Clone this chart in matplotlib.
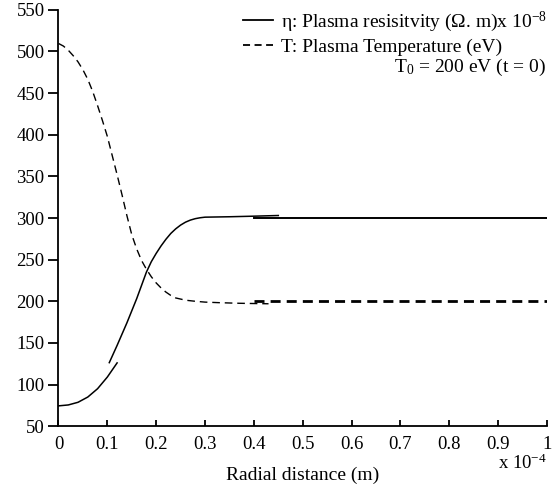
import matplotlib
matplotlib.use("Agg")
import matplotlib.pyplot as plt

plt.rcParams["font.family"] = ["Liberation Serif", "DejaVu Serif"]
plt.rcParams["mathtext.fontset"] = "custom"
plt.rcParams["mathtext.rm"] = "Liberation Serif"
plt.rcParams["mathtext.it"] = "Liberation Serif:italic"

# radial distance in units of 1e-4 m
eta_a_x = [0.0, 0.02, 0.04, 0.06, 0.08, 0.10, 0.12]
eta_a_y = [74.4, 75.5, 78.7, 85.0, 95.0, 109.0, 126.0]
eta_b_x = [0.104, 0.12, 0.14, 0.16, 0.18, 0.19, 0.20, 0.21, 0.22, 0.23, 0.24,
           0.25, 0.26, 0.27, 0.28, 0.29, 0.30, 0.35, 0.40, 0.45]
eta_b_y = [126.3, 147.0, 174.0, 203.0, 235.0, 247.5, 257.5, 266.5, 274.5, 281.5, 287.0,
           291.5, 295.0, 297.5, 299.2, 300.3, 301.0, 301.5, 302.2, 303.0]
eta_c_x = [0.40, 1.0]
eta_c_y = [300.5, 300.5]

temp_a_x = [0.0, 0.01, 0.02, 0.03, 0.04, 0.05, 0.06, 0.07, 0.08, 0.09, 0.10, 0.11,
            0.12, 0.13, 0.14, 0.15, 0.16, 0.17, 0.18, 0.19, 0.20, 0.21, 0.22, 0.23,
            0.24, 0.26, 0.28, 0.30, 0.33, 0.37, 0.43]
temp_a_y = [509.6, 506.5, 501.5, 495.0, 487.5, 478.0, 466.5, 452.0, 435.0, 417.0, 398.0, 375.0,
            352.0, 328.0, 303.0, 280.0, 263.0, 249.0, 238.5, 229.5, 222.0, 216.0, 211.0, 207.0,
            204.0, 201.3, 200.0, 199.0, 198.3, 197.6, 197.0]
temp_b_x = [0.40, 1.0]
temp_b_y = [200.0, 200.0]

xticks = [0, 0.1, 0.2, 0.3, 0.4, 0.5, 0.6, 0.7, 0.8, 0.9, 1]
xlabels = ["0", "0.1", "0.2", "0.3", "0.4", "0.5", "0.6", "0.7", "0.8", "0.9", "1"]
yticks = [50, 100, 150, 200, 250, 300, 350, 400, 450, 500, 550]

fig = plt.figure(figsize=(5.57, 4.91), dpi=100)
ax = fig.add_axes([0.105, 0.132, 0.877, 0.848])

ax.plot(eta_a_x, eta_a_y, color="black", lw=1.1)
ax.plot(eta_b_x, eta_b_y, color="black", lw=1.1)
ax.plot(eta_c_x, eta_c_y, color="black", lw=1.4)
ax.plot(temp_a_x, temp_a_y, color="black", lw=1.0, dashes=(5.5, 3.5))
ax.plot(temp_b_x, temp_b_y, color="black", lw=2.0, dashes=(3.6, 2.2))

ax.set_xlim(0, 1)
ax.set_ylim(50, 550)
ax.set_xticks(xticks)
ax.set_xticklabels(xlabels)
ax.set_yticks(yticks)
for s in ["top", "right"]:
    ax.spines[s].set_visible(False)
ax.spines["left"].set_linewidth(1.3)
ax.spines["bottom"].set_linewidth(1.3)
ax.tick_params(axis="x", direction="in", length=4, width=1.3, labelsize=13.5, pad=7)
ax.tick_params(axis="y", direction="out", length=7, width=1.3, labelsize=13.5, pad=3)

ax.set_xlabel("Radial distance (m)", fontsize=14, labelpad=10)
ax.text(1.0, -0.088, r"x 10$^{-4}$", transform=ax.transAxes, ha="right", va="center", fontsize=13.5)

h1, = ax.plot([], [], color="black", lw=1.3)
h2, = ax.plot([], [], color="black", lw=1.3, dashes=(3.9, 2.5))
ax.legend([h1, h2],
          [r"η: Plasma resisitvity (Ω. m)x 10$^{-8}$", "T: Plasma Temperature (eV)"],
          loc="upper right", bbox_to_anchor=(1.0, 1.0), frameon=False,
          fontsize=14, handlelength=1.55, handletextpad=0.4, labelspacing=0.22,
          borderpad=0.0, borderaxespad=0.0)
ax.text(0.997, 0.861, r"T$_0$ = 200 eV (t = 0)", transform=ax.transAxes,
        ha="right", va="center", fontsize=14)

fig.savefig("out.png", dpi=100)
